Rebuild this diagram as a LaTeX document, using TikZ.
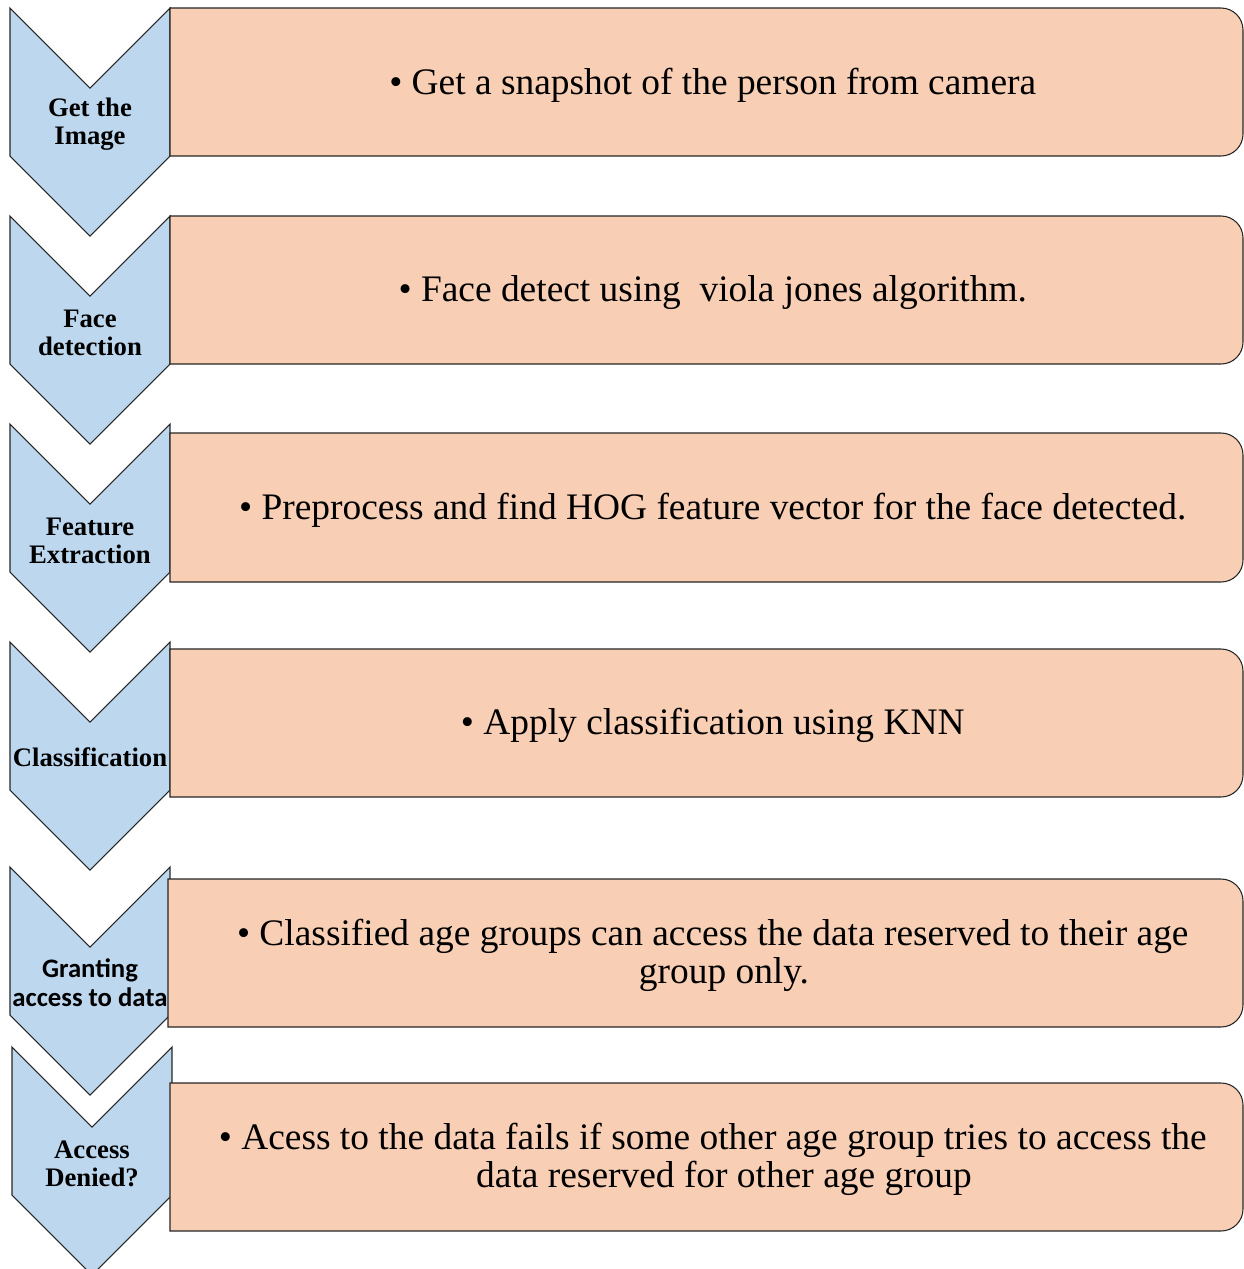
\documentclass[tikz,border=0pt]{standalone}
\usepackage{fontspec}
\setmainfont{Liberation Serif}
\newfontfamily\calibri{Carlito}
\definecolor{cChev}{HTML}{BDD7EE}
\definecolor{cBox}{HTML}{F8CFB4}
\tikzset{
  chev/.style={draw=black!85, line width=0.6pt, fill=cChev, line join=miter},
  pbox/.style={draw=black!85, line width=0.6pt, fill=cBox},
  clab/.style={font=\fontsize{15.2}{15.9}\selectfont\bfseries, align=center, inner sep=0pt},
  btxt/.style={font=\fontsize{21.3}{21.6}\selectfont, align=center, inner sep=0pt},
}
% chevron: top left corner x,y (pixels, y downwards)
\newcommand{\chevshape}[2]{\draw[chev] (#1,#2) -- ++(80,80) -- ++(80,-80) -- ++(0,148) -- ++(-80,80) -- ++(-80,-80) -- cycle;}
% box: left x, top y, bottom y
\newcommand{\peachbox}[3]{\draw[pbox] (#1,#2) [rounded corners=12.5pt] -- (1243,#2) -- (1243,#3) [sharp corners] -- (#1,#3) -- cycle;}

\begin{document}
\begin{tikzpicture}[x=0.02cm, y=-0.02cm]
\useasboundingbox (0,0) rectangle (1244,1269);
\chevshape{10}{8}
\chevshape{10}{216}
\chevshape{10}{424}
\chevshape{10}{642}
\chevshape{10}{867}
\chevshape{12}{1047}
\node[clab] (s1) at (90,124.5) {Get the\\Image};
\node[clab] (s2) at (90,333) {Face\\detection};
\node[clab] (s3) at (90,541) {Feature\\Extraction};
\node[clab] (s4) at (90,757) {Classification};
\node[clab, font=\fontsize{15.2}{16.4}\selectfont\calibri\bfseries] (s5) at (90,983) {Granting\\access to data};
\node[clab] (s6) at (92,1164) {Access\\Denied?};
\peachbox{170}{8}{156}
\peachbox{170}{216}{364}
\peachbox{170}{433}{582}
\peachbox{170}{649}{797}
\peachbox{168}{879}{1027}
\peachbox{170}{1083}{1231}
\node[btxt] (t1) at (724,85) {\llap{\textbullet~}Get a snapshot of the person from camera};
\node[btxt] (t2) at (724,293) {\llap{\textbullet~}Face detect using~ viola jones algorithm.};
\node[btxt] (t3) at (724,510) {\llap{\textbullet~}Preprocess and find HOG feature vector for the face detected.};
\node[btxt] (t4) at (724,725) {\llap{\textbullet~}Apply classification using KNN};
\node[btxt] (t5) at (724,955) {\llap{\textbullet~}Classified age groups can access the data reserved to their age\\group only.};
\node[btxt] (t6) at (724,1159) {\llap{\textbullet~}Acess to the data fails if some other age group tries to access the\\data reserved for other age group};
\end{tikzpicture}
\end{document}
